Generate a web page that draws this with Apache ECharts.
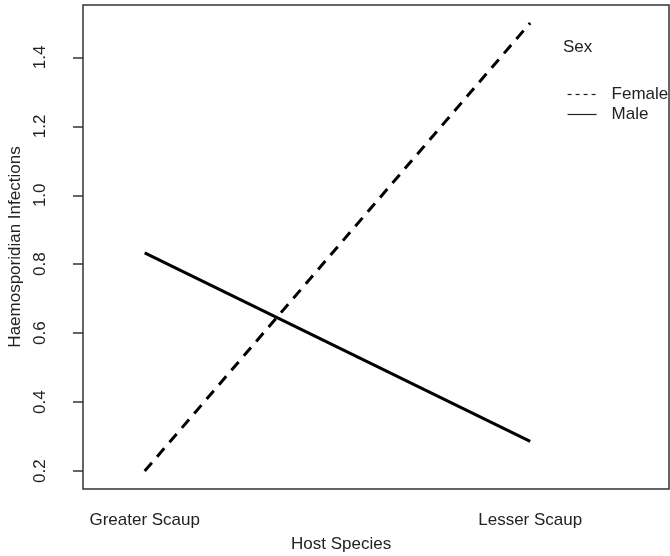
<!DOCTYPE html>
<html>
<head>
<meta charset="utf-8">
<script src="https://cdn.jsdelivr.net/npm/echarts@6/dist/echarts.min.js"></script>
<style>
  html, body { margin: 0; padding: 0; background: #fff; }
  #chart { width: 670px; height: 556px; }
</style>
</head>
<body>
<div id="chart"></div>
<script>
var hostSpecies = ['Greater Scaup', 'Lesser Scaup'];
var femaleValues = [0.2, 1.5];
var maleValues = [0.833, 0.286];
var yTicks = [0.2, 0.4, 0.6, 0.8, 1.0, 1.2, 1.4];

var chart = echarts.init(document.getElementById('chart'));
var font = 'Liberation Sans, Arial, sans-serif';
var ink = '#222';

function pairs(vals) {
  return vals.map(function (v, i) { return [i + 1, v]; });
}

var option = {
  animation: false,
  textStyle: { fontFamily: font },
  grid: {
    left: 83, top: 5, right: 1, bottom: 67,
    show: true, borderColor: '#333', borderWidth: 1.5,
    containLabel: false,
    outerBoundsMode: 'none'
  },
  legend: {
    orient: 'vertical',
    left: 562, top: 81,
    itemWidth: 29, itemHeight: 10, itemGap: 3,
    itemStyle: { opacity: 0 },
    textStyle: { fontSize: 17, color: ink, fontFamily: font, padding: [0, 0, 0, 10] },
    data: [
      { name: 'Female', lineStyle: { width: 1.2, type: [4, 4], color: '#222' } },
      { name: 'Male', lineStyle: { width: 1.2, type: 'solid', color: '#222' } }
    ]
  },
  graphic: [
    { type: 'text', left: 563, top: 39, style: { text: 'Sex', fontSize: 17, fill: ink, fontFamily: font } },
    { type: 'text', left: 291, top: 536, style: { text: 'Host Species', fontSize: 17, fill: ink, fontFamily: font } }
  ],
  xAxis: {
    type: 'value',
    min: 0.84, max: 2.36,
    splitLine: { show: false },
    axisLine: { show: false },
    axisTick: { show: false },
    axisLabel: {
      customValues: [1, 2],
      margin: 23,
      fontSize: 17,
      color: ink,
      formatter: function (v) { return hostSpecies[Math.round(v) - 1]; }
    }
  },
  yAxis: {
    type: 'value',
    min: 0.148, max: 1.552,
    name: 'Haemosporidian Infections',
    nameLocation: 'middle',
    nameGap: 57,
    nameTextStyle: { fontSize: 17, color: ink },
    splitLine: { show: false },
    axisLine: { show: false },
    axisTick: { show: true, length: 10, customValues: yTicks, lineStyle: { color: '#333', width: 1.5 } },
    axisLabel: {
      customValues: yTicks,
      rotate: 90,
      margin: 34,
      fontSize: 17,
      color: ink,
      formatter: function (v) { return v.toFixed(1); }
    }
  },
  series: [
    {
      name: 'Female',
      type: 'line',
      symbol: 'none',
      data: pairs(femaleValues),
      itemStyle: { color: '#000' },
      lineStyle: { color: '#000', width: 3, type: [11, 8] }
    },
    {
      name: 'Male',
      type: 'line',
      symbol: 'none',
      data: pairs(maleValues),
      itemStyle: { color: '#000' },
      lineStyle: { color: '#000', width: 3, type: 'solid' }
    }
  ]
};

chart.setOption(option);
</script>
</body>
</html>
